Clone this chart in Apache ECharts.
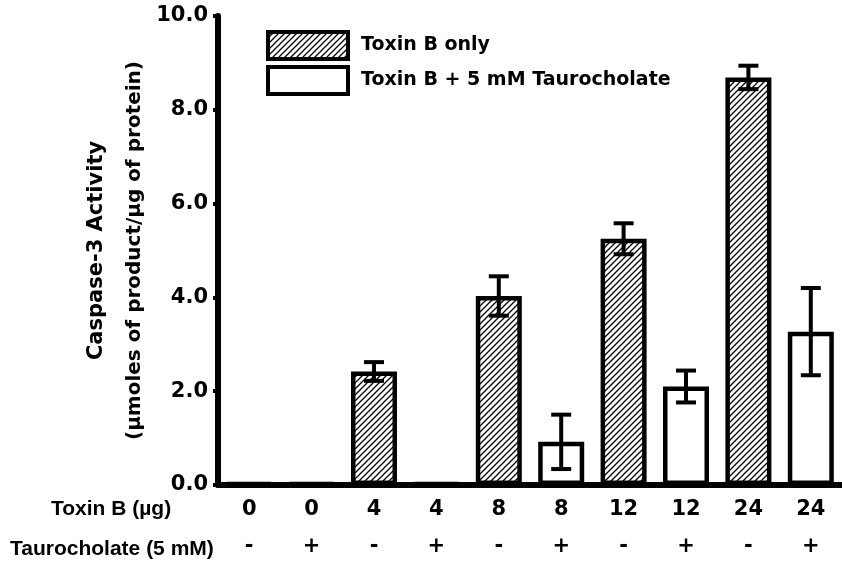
<!DOCTYPE html>
<html>
<head>
<meta charset="utf-8">
<script src="https://cdn.jsdelivr.net/npm/echarts@6/dist/echarts.min.js"></script>
<style>
html,body{margin:0;padding:0;background:#fff;}
#chart{width:842px;height:565px;}
</style>
</head>
<body>
<div id="chart"></div>
<script>
// ---- data ----
const toxinDose = ['0', '0', '4', '4', '8', '8', '12', '12', '24', '24'];
const tauro = ['-', '+', '-', '+', '-', '+', '-', '+', '-', '+'];
const toxinOnly = [0.04, null, 2.42, null, 4.03, null, 5.25, null, 8.69, null];
const toxinTauro = [null, 0.04, null, 0.04, null, 0.92, null, 2.10, null, 3.27];
const errors = [0, 0, 0.20, 0, 0.42, 0.58, 0.33, 0.34, 0.25, 0.93];
const yTicks = [0, 2, 4, 6, 8, 10];
const seriesNames = ['Toxin B only', 'Toxin B + 5 mM Taurocholate'];

const categories = toxinDose.map((d, i) => d + '\n' + tauro[i]);
const means = toxinOnly.map((v, i) => (v != null ? v : toxinTauro[i]));
const errData = [];
means.forEach((m, i) => { if (errors[i] > 0) errData.push([i, m, errors[i]]); });

function makeHatch() {
  const s = 6;
  const c = document.createElement('canvas');
  c.width = s; c.height = s;
  const g = c.getContext('2d');
  g.fillStyle = '#fff';
  g.fillRect(0, 0, s, s);
  g.strokeStyle = '#000';
  g.lineWidth = 1.3;
  g.beginPath();
  g.moveTo(0, s); g.lineTo(s, 0);
  g.moveTo(-1, 1); g.lineTo(1, -1);
  g.moveTo(s - 1, s + 1); g.lineTo(s + 1, s - 1);
  g.stroke();
  return c;
}
const hatch = { image: makeHatch(), repeat: 'repeat' };

const FONT = 'DejaVu Sans';
const chart = echarts.init(document.getElementById('chart'), null, { renderer: 'canvas' });

const option = {
  animation: false,
  backgroundColor: '#fff',
  grid: { left: 218, top: 16, width: 627, bottom: 80, containLabel: false },
  legend: {
    orient: 'vertical',
    left: 266, top: 30,
    padding: 0,
    itemWidth: 80, itemHeight: 27,
    itemGap: 4,
    icon: 'rect',
    selectedMode: false,
    textStyle: { fontFamily: FONT, fontWeight: 'bold', fontSize: 19, color: '#000', padding: [0, 0, 0, 8] },
    data: [
      { name: seriesNames[0], itemStyle: { color: hatch, borderColor: '#000', borderWidth: 4 } },
      { name: seriesNames[1], itemStyle: { color: '#fff', borderColor: '#000', borderWidth: 4 } }
    ]
  },
  xAxis: {
    type: 'category',
    data: categories,
    boundaryGap: true,
    axisLine: { lineStyle: { color: '#000', width: 6 } },
    axisTick: { alignWithLabel: true, length: 6, lineStyle: { color: '#000', width: 5 } },
    axisLabel: {
      color: '#000', fontFamily: FONT, fontWeight: 'bold', fontSize: 21,
      lineHeight: 37, margin: 6, interval: 0
    }
  },
  yAxis: {
    type: 'value',
    min: yTicks[0], max: yTicks[yTicks.length - 1], interval: 2,
    splitLine: { show: false },
    axisLine: { show: true, lineStyle: { color: '#000', width: 6 } },
    axisTick: { show: true, length: 5, lineStyle: { color: '#000', width: 4 } },
    axisLabel: {
      color: '#000', fontFamily: FONT, fontWeight: 'bold', fontSize: 21, margin: 10,
      formatter: v => v.toFixed(1)
    },
    name: '{a|Caspase-3 Activity}\n{b|(\u00b5moles of product/\u00b5g of protein)}',
    nameLocation: 'middle',
    nameRotate: 90,
    nameGap: 64,
    nameTextStyle: {
      color: '#000',
      rich: {
        a: { fontFamily: FONT, fontWeight: 'bold', fontSize: 21, lineHeight: 38, color: '#000' },
        b: { fontFamily: FONT, fontWeight: 'bold', fontSize: 20, lineHeight: 38, color: '#000' }
      }
    }
  },
  graphic: [
    { type: 'text', left: 51, top: 499, style: { text: 'Toxin B (\u00b5g)', font: 'bold 21px "Liberation Sans"', fill: '#000' } },
    { type: 'text', left: 10, top: 539, style: { text: 'Taurocholate (5 mM)', font: 'bold 21px "Liberation Sans"', fill: '#000' } }
  ],
  series: [
    {
      name: seriesNames[0], type: 'bar', data: toxinOnly, barWidth: 46, barGap: '-100%',
      itemStyle: { color: hatch, borderColor: '#000', borderWidth: 4.5 }, z: 2
    },
    {
      name: seriesNames[1], type: 'bar', data: toxinTauro, barWidth: 46, barGap: '-100%',
      itemStyle: { color: '#fff', borderColor: '#000', borderWidth: 4.5 }, z: 2
    },
    {
      type: 'custom', data: errData, z: 5,
      renderItem: function (params, api) {
        const i = api.value(0), m = api.value(1), e = api.value(2);
        const hi = api.coord([i, m + e]);
        const lo = api.coord([i, m - e]);
        const hw = 10;
        const st = { stroke: '#000', lineWidth: 4 };
        return {
          type: 'group',
          children: [
            { type: 'line', shape: { x1: hi[0], y1: hi[1], x2: lo[0], y2: lo[1] }, style: st },
            { type: 'line', shape: { x1: hi[0] - hw, y1: hi[1], x2: hi[0] + hw, y2: hi[1] }, style: st },
            { type: 'line', shape: { x1: lo[0] - hw, y1: lo[1], x2: lo[0] + hw, y2: lo[1] }, style: st }
          ]
        };
      }
    }
  ]
};
chart.setOption(option);
</script>
</body>
</html>
